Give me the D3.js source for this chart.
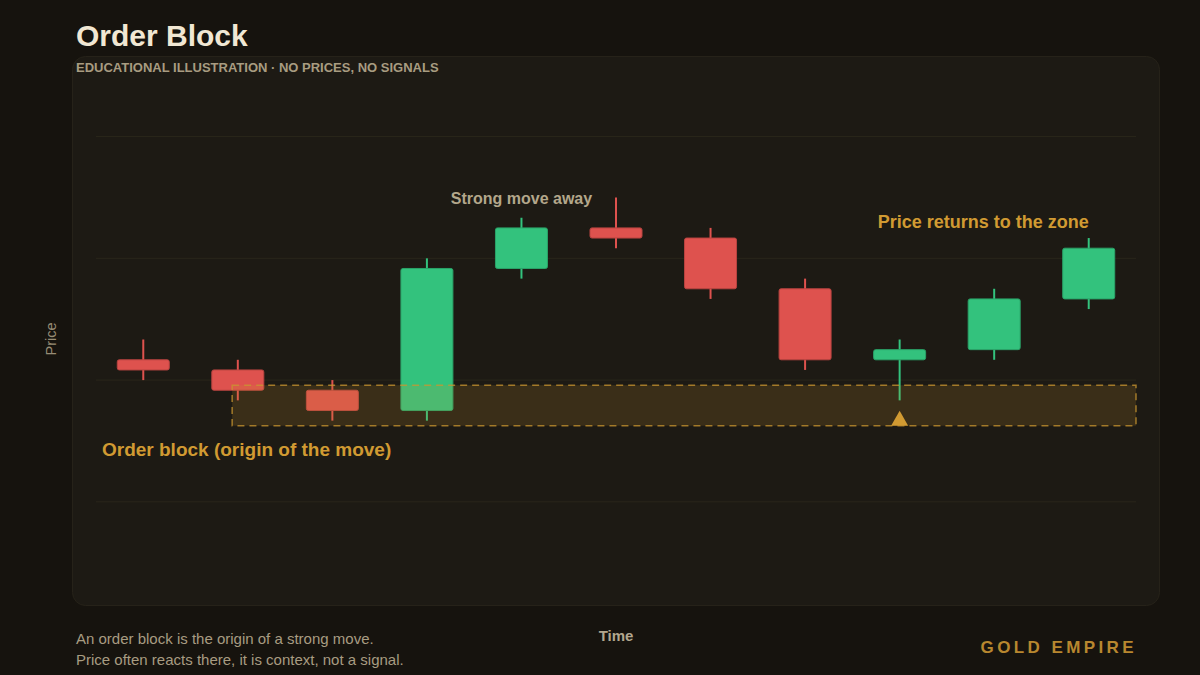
<!DOCTYPE html>
<html><head><meta charset="utf-8">
<script src="https://cdn.jsdelivr.net/npm/d3@7"></script>
<style>
html,body{margin:0;padding:0;background:#16130e;}
svg{display:block;font-family:"Liberation Sans",Arial,Helvetica,sans-serif;}
</style></head>
<body><svg id="c" width="1200" height="675"></svg>
<script>
// ---- data ----
const candleIndex = [0,1,2,3,4,5,6,7,8,9,10];
const opens  = [22,21,19,17,31,35,34,29,22,23,28];
const closes = [21,19,17,31,35,34,29,22,23,28,33];
const highs  = [24,22,20,32,36,38,35,30,24,29,34];
const lows   = [20,18,16,16,30,33,28,21,18,22,27];
const gridTicks = [8,20,32,44];
const zoneLow = 15.5, zoneHigh = 19.5;
const zoneStartIndex = 0.94;
const markerIndex = 8;

const svg = d3.select("#c");
const W = 1200, H = 675;
const green = "#33c27d", red = "#de524e", gold = "#d19a32";

svg.append("rect").attr("width",W).attr("height",H).attr("fill","#16130e");
svg.append("rect").attr("x",72.5).attr("y",56.5).attr("width",1087).attr("height",549)
  .attr("rx",13).attr("fill","#1d1a14").attr("stroke","#262219").attr("stroke-width",1);

const plotL = 96, plotR = 1136;
const step = (plotR-plotL)/candleIndex.length;
const xi = d3.scaleLinear().domain([0,1]).range([plotL+step/2, plotL+step*1.5]);
const y = d3.scaleLinear().domain([0,48]).range([583,96]);

// grid
svg.append("g").selectAll("line").data(gridTicks).join("line")
  .attr("x1",plotL).attr("x2",plotR).attr("y1",d=>y(d)).attr("y2",d=>y(d))
  .attr("stroke","#2a261b").attr("stroke-width",1);

// candles
const data = candleIndex.map(i=>({i,o:opens[i],c:closes[i],h:highs[i],l:lows[i]}));
const g = svg.append("g");
g.selectAll("line.w").data(data).join("line").attr("class","w")
  .attr("x1",d=>xi(d.i)).attr("x2",d=>xi(d.i))
  .attr("y1",d=>y(d.h)).attr("y2",d=>y(d.l))
  .attr("stroke",d=>d.c>=d.o?green:red).attr("stroke-width",2);
g.selectAll("rect.b").data(data).join("rect").attr("class","b")
  .attr("x",d=>xi(d.i)-26).attr("width",52)
  .attr("y",d=>y(Math.max(d.o,d.c)))
  .attr("height",d=>Math.abs(y(d.o)-y(d.c)))
  .attr("rx",2)
  .attr("fill",d=>d.c>=d.o?green:red)
  .attr("stroke",d=>d.c>=d.o?"#2aa368":"#b94440").attr("stroke-width",1);

// zone
svg.append("rect")
  .attr("x",xi(zoneStartIndex)).attr("width",plotR-xi(zoneStartIndex))
  .attr("y",y(zoneHigh)).attr("height",y(zoneLow)-y(zoneHigh))
  .attr("fill","rgba(201,150,48,0.17)")
  .attr("stroke","rgba(201,150,48,0.75)").attr("stroke-width",1.5)
  .attr("stroke-dasharray","7,5");

// marker triangle
const mx = xi(markerIndex), my = y(zoneLow);
svg.append("path").attr("d",`M${mx-8.5},${my} L${mx},${my-15} L${mx+8.5},${my} Z`).attr("fill",gold);

// annotations
svg.append("text").attr("x",xi(4)).attr("y",204).attr("text-anchor","middle")
  .attr("font-size",16).attr("font-weight","bold").attr("fill","#b3a78b").text("Strong move away");
svg.append("text").attr("x",xi(10)).attr("y",228).attr("text-anchor","end")
  .attr("font-size",18).attr("font-weight","bold").attr("fill",gold).text("Price returns to the zone");
svg.append("text").attr("x",102).attr("y",456)
  .attr("font-size",19).attr("font-weight","bold").attr("fill",gold).text("Order block (origin of the move)");

// titles
svg.append("text").attr("x",76).attr("y",46).attr("font-size",30).attr("font-weight","bold")
  .attr("fill","#f1e7d3").text("Order Block");
svg.append("text").attr("x",76).attr("y",72).attr("font-size",13).attr("font-weight","bold")
  .attr("fill","#a89c81").text("EDUCATIONAL ILLUSTRATION · NO PRICES, NO SIGNALS");

// axis labels
svg.append("text").attr("transform","translate(56,339) rotate(-90)").attr("text-anchor","middle")
  .attr("font-size",14.5).attr("fill","#978c75").text("Price");
svg.append("text").attr("x",616).attr("y",641).attr("text-anchor","middle")
  .attr("font-size",15).attr("font-weight","bold").attr("fill","#b2a78e").text("Time");

// footer
svg.append("text").attr("x",76).attr("y",644).attr("font-size",15).attr("fill","#a89c82")
  .text("An order block is the origin of a strong move.");
svg.append("text").attr("x",76).attr("y",665).attr("font-size",15).attr("fill","#a89c82")
  .text("Price often reacts there, it is context, not a signal.");
svg.append("text").attr("x",1137).attr("y",653).attr("text-anchor","end")
  .attr("font-size",17).attr("font-weight","bold").attr("letter-spacing",3.4)
  .attr("fill","#b8872f").text("GOLD EMPIRE");
</script></body></html>
